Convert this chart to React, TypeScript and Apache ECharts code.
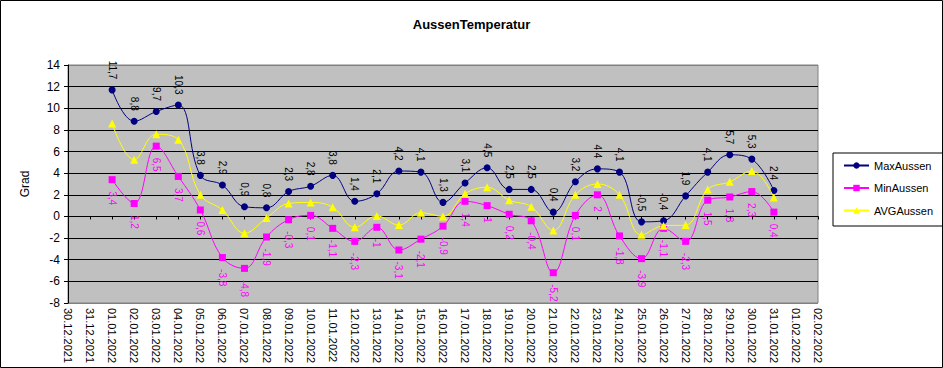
import React, { useEffect, useRef } from 'react';
import * as echarts from 'echarts';

const categories = [
  '30.12.2021', '31.12.2021',
  '01.01.2022', '02.01.2022', '03.01.2022', '04.01.2022', '05.01.2022', '06.01.2022', '07.01.2022',
  '08.01.2022', '09.01.2022', '10.01.2022', '11.01.2022', '12.01.2022', '13.01.2022', '14.01.2022',
  '15.01.2022', '16.01.2022', '17.01.2022', '18.01.2022', '19.01.2022', '20.01.2022', '21.01.2022',
  '22.01.2022', '23.01.2022', '24.01.2022', '25.01.2022', '26.01.2022', '27.01.2022', '28.01.2022',
  '29.01.2022', '30.01.2022', '31.01.2022',
  '01.02.2022', '02.02.2022',
];

const maxAussen = [
  null, null,
  11.7, 8.8, 9.7, 10.3, 3.8, 2.9, 0.9, 0.8, 2.3, 2.8, 3.8, 1.4, 2.1, 4.2, 4.1,
  1.3, 3.1, 4.5, 2.5, 2.5, 0.4, 3.2, 4.4, 4.1, -0.5, -0.4, 1.9, 4.1, 5.7, 5.3, 2.4,
  null, null,
];

const minAussen = [
  null, null,
  3.4, 1.2, 6.5, 3.7, 0.6, -3.8, -4.8, -1.9, -0.3, 0.1, -1.1, -2.3, -1, -3.1, -2.1,
  -0.9, 1.4, 1, 0.2, -0.4, -5.2, 0.1, 2, -1.8, -3.9, -1.1, -2.3, 1.5, 1.8, 2.3, 0.4,
  null, null,
];

const avgAussen = [
  null, null,
  8.6, 5.25, 7.6, 7.1, 2.0, 0.6, -1.55, -0.15, 1.2, 1.3, 0.85, -1.0, 0.05, -0.8, 0.35,
  0, 2.1, 2.7, 1.5, 0.9, -1.3, 2.0, 3.0, 2.0, -1.7, -0.85, -0.8, 2.5, 3.2, 4.2, 1.75,
  null, null,
];

const FONT = '"Liberation Sans", Arial, sans-serif';

const fmt = (p: any) => (p.value == null ? '' : String(p.value).replace('.', ','));

export default function App() {
  const ref = useRef<HTMLDivElement>(null);
  useEffect(() => {
    document.body.style.margin = '0';
    const chart = echarts.init(ref.current!, null, { renderer: 'svg' });
    const gridColors = ['#808080', '#000', '#000', '#000', '#000', '#000', '#000', '#000', '#000', '#000', '#000', '#808080'];
    chart.setOption({
      animation: false,
      backgroundColor: '#fff',
      textStyle: { fontFamily: FONT },
      title: {
        text: 'AussenTemperatur',
        left: 'center',
        top: 13,
        textStyle: { fontFamily: FONT, fontSize: 13, fontWeight: 'bold', color: '#000' },
      },
      legend: {
        orient: 'vertical',
        left: 833,
        top: 153,
        padding: [7, 11, 10, 10],
        borderColor: '#000',
        borderWidth: 1,
        itemWidth: 25,
        itemHeight: 8,
        itemGap: 11.5,
        textStyle: { fontFamily: FONT, fontSize: 11, color: '#000' },
        data: ['MaxAussen', 'MinAussen', 'AVGAussen'],
      },
      grid: {
        left: 68,
        right: 125,
        top: 65,
        bottom: 65,
        show: true,
        backgroundColor: '#C0C0C0',
        borderColor: '#808080',
        borderWidth: 1,
      },
      xAxis: [
        {
          type: 'category',
          data: categories,
          boundaryGap: false,
          axisLine: { show: false, onZero: false },
          axisTick: { show: false },
          axisLabel: {
            interval: 0,
            rotate: -90,
            margin: 5,
            fontFamily: FONT,
            fontSize: 11,
            color: '#000',
          },
          splitLine: { show: false },
        },
        {
          type: 'category',
          data: categories,
          boundaryGap: false,
          position: 'bottom',
          axisLine: { show: true, onZero: true, lineStyle: { color: '#000', width: 1 } },
          axisTick: { show: true, length: 3, interval: 0, lineStyle: { color: '#000' } },
          axisLabel: { show: false },
          splitLine: { show: false },
        },
      ],
      yAxis: {
        type: 'value',
        min: -8,
        max: 14,
        interval: 2,
        name: 'Grad',
        nameLocation: 'middle',
        nameGap: 37,
        nameTextStyle: { fontFamily: FONT, fontSize: 12, color: '#000' },
        axisLine: { show: true, lineStyle: { color: '#000', width: 1 } },
        axisTick: { show: true, length: 4, lineStyle: { color: '#000' } },
        axisLabel: { fontFamily: FONT, fontSize: 12, color: '#000', margin: 8 },
        splitLine: { show: true, lineStyle: { color: gridColors, width: 1 } },
      },
      graphic: [
        {
          type: 'rect',
          shape: { x: 0.5, y: 0.5, width: 942, height: 367 },
          style: { fill: 'none', stroke: '#000', lineWidth: 1 },
          z: 100,
          silent: true,
        },
      ],
      series: [
        {
          name: 'MaxAussen',
          type: 'line',
          data: maxAussen,
          smooth: 0.4,
          symbol: 'circle',
          symbolSize: 7,
          showAllSymbol: true,
          lineStyle: { color: '#000080', width: 1 },
          itemStyle: { color: '#000080' },
          label: {
            show: true,
            position: 'top',
            rotate: -90,
            align: 'right',
            verticalAlign: 'middle',
            distance: 7,
            fontFamily: FONT,
            fontSize: 10,
            color: '#000',
            formatter: fmt,
          },
          z: 3,
        },
        {
          name: 'MinAussen',
          type: 'line',
          data: minAussen,
          smooth: 0.4,
          symbol: 'rect',
          symbolSize: 7,
          showAllSymbol: true,
          lineStyle: { color: '#FF00FF', width: 1 },
          itemStyle: { color: '#FF00FF' },
          label: {
            show: true,
            position: 'bottom',
            rotate: -90,
            align: 'left',
            verticalAlign: 'middle',
            distance: 8,
            fontFamily: FONT,
            fontSize: 10,
            color: '#FF00FF',
            formatter: fmt,
          },
          z: 4,
        },
        {
          name: 'AVGAussen',
          type: 'line',
          data: avgAussen,
          smooth: 0.4,
          symbol: 'triangle',
          symbolSize: 8,
          showAllSymbol: true,
          lineStyle: { color: '#FFFF00', width: 1 },
          itemStyle: { color: '#FFFF00' },
          z: 5,
        },
      ],
    });
    return () => chart.dispose();
  }, []);
  return <div ref={ref} style={{ width: 943, height: 368 }} />;
}
